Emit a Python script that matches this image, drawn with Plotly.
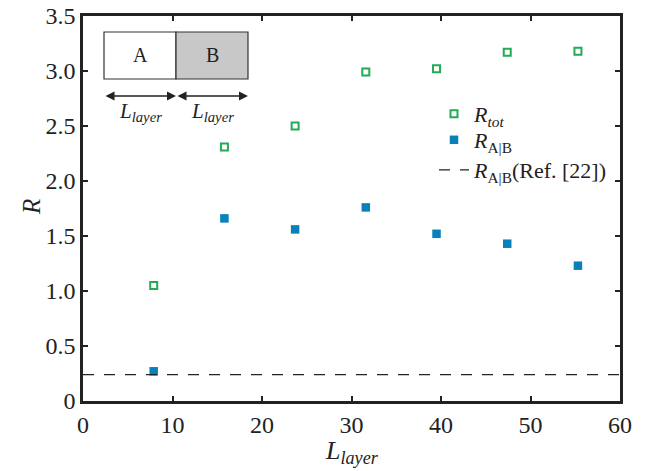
import plotly.graph_objects as go

# Data
L_layer = [7.9, 15.8, 23.7, 31.6, 39.5, 47.4, 55.3]
R_tot = [1.05, 2.31, 2.50, 2.99, 3.02, 3.17, 3.18]
R_AB = [0.27, 1.66, 1.56, 1.76, 1.52, 1.43, 1.23]
R_ref_x = [0, 60]
R_ref = [0.24, 0.24]

x_ticks = [0, 10, 20, 30, 40, 50, 60]
y_ticks = [0, 0.5, 1.0, 1.5, 2.0, 2.5, 3.0, 3.5]
y_ticktext = ["0", "0.5", "1.0", "1.5", "2.0", "2.5", "3.0", "3.5"]

FONT = "Liberation Serif"
INK = "#222222"
W, H = 655, 471
ML, MR, MT, MB = 83, 35, 16, 70
PW, PH = W - ML - MR, H - MT - MB

def px(x):
    return (x - ML) / PW

def py(y):
    return (H - MB - y) / PH

fig = go.Figure()
fig.add_trace(go.Scatter(
    x=L_layer, y=R_tot, mode="markers",
    name="<i>R</i><sub><i>tot</i></sub>", legend="legend",
    marker=dict(symbol="square-open", size=7, color="#22aa55",
                line=dict(width=2, color="#22aa55")),
))
fig.add_trace(go.Scatter(
    x=L_layer, y=R_AB, mode="markers",
    name="<i>R</i><sub>A|B</sub>", legend="legend2",
    marker=dict(symbol="square", size=8.5, color="#0a80ba"),
))
fig.add_trace(go.Scatter(
    x=R_ref_x, y=R_ref, mode="lines",
    name="<i>R</i><sub>A|B</sub>(Ref. [22])", legend="legend3",
    line=dict(color=INK, width=1.3, dash="11px,10px"),
))

axis_common = dict(
    showline=True, linecolor=INK, linewidth=2.5, mirror="ticks",
    ticks="inside", ticklen=5, tickwidth=2, tickcolor=INK,
    showgrid=False, zeroline=False, automargin=False,
    tickfont=dict(family=FONT, size=24, color=INK),
)

def leg(yc):
    return dict(x=px(434), y=py(yc), xanchor="left", yanchor="middle",
                bgcolor="rgba(0,0,0,0)", borderwidth=0,
                font=dict(family=FONT, size=22, color=INK))

fig.update_layout(
    width=W, height=H,
    margin=dict(l=ML, r=MR, t=MT, b=MB),
    paper_bgcolor="white", plot_bgcolor="white",
    font=dict(family=FONT, color=INK),
    showlegend=True,
    legend=leg(114),
    legend2=leg(140),
    legend3=leg(170),
    xaxis=dict(
        range=[0, 60], tickvals=x_ticks, ticktext=[str(v) for v in x_ticks],
        **axis_common,
    ),
    yaxis=dict(
        range=[0, 3.5], tickvals=y_ticks, ticktext=y_ticktext,
        **axis_common,
    ),
)

# Axis titles
fig.add_annotation(xref="paper", yref="paper", x=px(352), y=py(452),
                   xanchor="center", yanchor="middle", showarrow=False,
                   text="<i>L</i><sub><i>layer</i></sub>",
                   font=dict(family=FONT, size=26, color=INK))
fig.add_annotation(xref="paper", yref="paper", x=px(31), y=py(207),
                   xanchor="center", yanchor="middle", showarrow=False,
                   text="<i>R</i>", textangle=-90,
                   font=dict(family=FONT, size=25, color=INK))

# Inset schematic (A | B layers)
shapes = [
    dict(type="rect", xref="paper", yref="paper",
         x0=px(104), x1=px(176), y0=py(79), y1=py(32),
         fillcolor="white", line=dict(color="#333333", width=1.2)),
    dict(type="rect", xref="paper", yref="paper",
         x0=px(176), x1=px(248), y0=py(79), y1=py(32),
         fillcolor="#c8c8c8", line=dict(color="#333333", width=1.2)),
]
fig.update_layout(shapes=shapes)

for cx, t in [(140, "A"), (212, "B")]:
    fig.add_annotation(xref="paper", yref="paper", x=px(cx), y=py(55),
                       xanchor="center", yanchor="middle",
                       text=t, showarrow=False,
                       font=dict(family=FONT, size=20, color=INK))

for x0, x1 in [(104, 176), (176, 248)]:
    fig.add_annotation(xref="paper", yref="paper",
                       x=px(x1), y=py(96), ax=x0 - x1, ay=0,
                       text="", showarrow=True, arrowside="end+start",
                       arrowhead=2, arrowsize=1.2, arrowwidth=1.5,
                       arrowcolor=INK, standoff=0, startstandoff=0)
    fig.add_annotation(xref="paper", yref="paper",
                       x=px((x0 + x1) / 2), y=py(112),
                       xanchor="center", yanchor="middle",
                       text="<i>L</i><sub><i>layer</i></sub>", showarrow=False,
                       font=dict(family=FONT, size=21, color=INK))

fig.write_html("out.html")
